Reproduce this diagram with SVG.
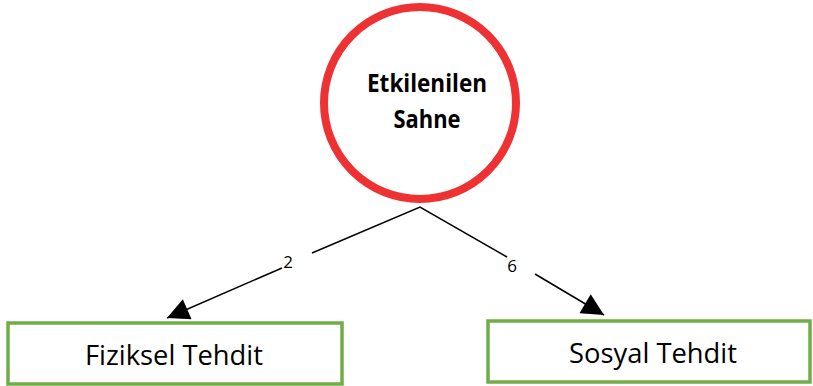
<svg xmlns="http://www.w3.org/2000/svg" width="813" height="386" viewBox="0 0 813 386">
  <defs>
    <marker id="arrow" viewBox="0 0 10 10" refX="10" refY="5" markerWidth="26" markerHeight="22" markerUnits="userSpaceOnUse" orient="auto">
      <path d="M0,0 L10,5 L0,10 Z" fill="#000"/>
    </marker>
    <style>
      .edge { stroke: #000; stroke-width: 1.5; fill: none; }
      .lbl { font-family: "Open Sans", "Liberation Sans", sans-serif; font-size: 17px; fill: #000; text-anchor: middle; }
      .box { fill: #fff; stroke: #70AD47; stroke-width: 3.5; }
      .boxtext { font-family: "Open Sans", "Liberation Sans", sans-serif; font-size: 27px; fill: #000; text-anchor: middle; }
      .hub { fill: #fff; stroke: #EE3233; stroke-width: 8; }
      .hubtext { font-family: "Open Sans", "Liberation Sans", sans-serif; font-weight: bold; font-size: 25px; fill: #000; text-anchor: middle; }
    </style>
  </defs>

  <g id="hub">
    <circle class="hub" cx="420" cy="103" r="96"/>
    <text class="hubtext" x="427" y="92" textLength="120" lengthAdjust="spacingAndGlyphs">Etkilenilen</text>
    <text class="hubtext" x="427" y="128" textLength="67" lengthAdjust="spacingAndGlyphs">Sahne</text>
  </g>

  <g id="fiziksel">
    <rect class="box" x="8" y="323" width="334" height="61"/>
    <text class="boxtext" x="174" y="365" textLength="178" lengthAdjust="spacingAndGlyphs">Fiziksel Tehdit</text>
  </g>

  <g id="sosyal">
    <rect class="box" x="488" y="321" width="322" height="61"/>
    <text class="boxtext" x="653" y="363" textLength="168" lengthAdjust="spacingAndGlyphs">Sosyal Tehdit</text>
  </g>

  <g id="connectors">
    <polyline class="edge" points="312,253 420,207 507,257"/>
    <line class="edge" x1="282" y1="268" x2="167" y2="318" marker-end="url(#arrow)"/>
    <line class="edge" x1="535" y1="274" x2="604" y2="315" marker-end="url(#arrow)"/>
    <text class="lbl" x="288" y="268">2</text>
    <text class="lbl" x="512" y="272">6</text>
  </g>
</svg>
